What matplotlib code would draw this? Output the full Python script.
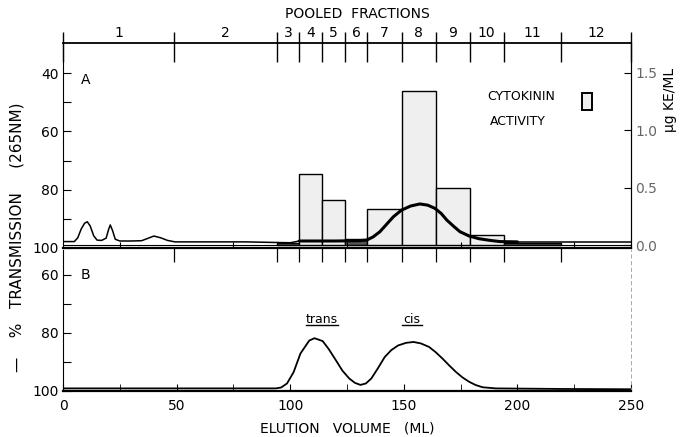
#!/usr/bin/env python3
"""
Cytokinin activity of pooled fractions vs. 265 nm transmission trace.
Saves out.png (695x437).
"""
import numpy as np
import matplotlib.pyplot as plt
from matplotlib.patches import Rectangle
import matplotlib.transforms as mtransforms

plt.rcParams["font.family"] = ["DejaVu Sans"]

# pooled fraction boundaries (ml) and labels
frac_edges = [0, 49, 94, 104, 114, 124, 134, 149, 164, 179, 194, 219, 250]
frac_labels = ["1", "2", "3", "4", "5", "6", "7", "8", "9", "10", "11", "12"]

# cytokinin activity per fraction (ug KE / ml)
activity = [0.0, 0.0, 0.02, 0.62, 0.39, 0.05, 0.31, 1.34, 0.50, 0.087, 0.02, 0.0]

# panel A: % transmission trace (265 nm)
a_vol = [0, 5, 6.5, 8, 9.5, 10.7, 12, 13.5, 15, 17, 19, 20, 20.8, 21.8, 23, 25,
         30, 34.6, 37, 40, 43, 46, 49.3, 55, 80, 100, 104, 120, 130, 133.6,
         136.5, 139.5, 142.5, 145.4, 149, 153, 157.1, 160.5, 163.7, 166.5,
         168.9, 172, 174.7, 178.8, 183, 188, 192.3, 200, 225, 250]
a_T = [97.8, 97.8, 96.5, 93.5, 91.5, 91.0, 92.5, 95.8, 97.3, 97.4, 96.6, 93.8,
       92.1, 94.0, 97.0, 97.6, 97.6, 97.5, 96.8, 95.9, 96.5, 97.4, 97.9, 97.9,
       97.9, 98.2, 97.6, 97.6, 97.5, 97.3, 96.2, 94.4, 91.8, 89.3, 87.0, 85.6,
       84.9, 85.3, 86.4, 88.2, 90.4, 92.6, 94.4, 95.9, 96.8, 97.4, 97.8, 97.9,
       97.9, 97.9]

# panel B: % transmission trace
b_vol = [0, 50, 93.7, 96, 98.6, 101.5, 104.5, 108.4, 110.7, 114.3, 117, 120.1,
         123, 126, 128.5, 130.9, 133.3, 135.7, 138.5, 141.6, 144.5, 147.5, 151,
         154.3, 157.5, 161.1, 164, 167, 170, 172.9, 175.8, 178.7, 181.5, 184.6,
         190.4, 220, 250]
b_T = [99.1, 99.1, 99.1, 98.8, 97.4, 93.5, 87.1, 82.6, 81.8, 82.8, 85.6, 89.4,
       93.0, 95.7, 97.2, 97.9, 97.4, 95.7, 92.3, 88.3, 85.9, 84.3, 83.4, 83.1,
       83.6, 84.8, 86.6, 88.8, 91.2, 93.4, 95.3, 96.8, 97.9, 98.7, 99.1, 99.3,
       99.4]

W, H = 695, 437
FS = 10


def fx(px):
    return px / W


def fy(py):
    return 1 - py / H


fig = plt.figure(figsize=(W / 100, H / 100), dpi=100)
fig.patch.set_facecolor("white")

ax_a = fig.add_axes([fx(63), fy(248), fx(631 - 63), (248 - 43) / H])
ax_b = fig.add_axes([fx(63), fy(391), fx(631 - 63), (391 - 250) / H])
ax_r = ax_a.twinx()

# ---- panel A -------------------------------------------------------------
lefts = frac_edges[:-1]
widths = np.diff(frac_edges)
for l, w, h in zip(lefts, widths, activity):
    if h <= 0:
        continue
    dark = h < 0.06
    ax_r.bar(l, h, width=w, align="edge",
             facecolor="#555555" if dark else "#efefef",
             edgecolor="black", linewidth=1.0, zorder=2)
ax_r.axhline(0, color="black", lw=0.8, zorder=1)
ax_r.set_ylim(-0.026, 1.761)
ax_r.set_yticks([0, 0.5, 1.0, 1.5])
ax_r.set_yticklabels(["0.0", "0.5", "1.0", "1.5"], color="#666666", fontsize=FS)
ax_r.tick_params(axis="y", direction="in", length=5, pad=3)

ax_a.set_zorder(ax_r.get_zorder() + 1)
ax_a.patch.set_visible(False)
vol = np.array(a_vol)
tr = np.array(a_T)
thin_l = vol <= 104
thick = (vol >= 104) & (vol <= 200)
thin_r = vol >= 200
ax_a.plot(vol[thin_l], tr[thin_l], color="black", lw=1.1)
ax_a.plot(vol[thick], tr[thick], color="black", lw=2.2, solid_capstyle="round")
ax_a.plot(vol[thin_r], tr[thin_r], color="black", lw=1.1)

ax_a.set_xlim(0, 250)
ax_a.set_ylim(100, 29.7)
ax_a.set_yticks([40, 50, 60, 70, 80, 90, 100])
ax_a.set_yticklabels(["40", "", "60", "", "80", "", "100"], fontsize=FS)
ax_a.tick_params(axis="y", direction="in", length=6, pad=3)
ax_a.set_xticks([25, 75, 125, 175, 225])
ax_a.set_xticklabels([])
ax_a.tick_params(axis="x", direction="in", length=4)
for sp in ("left", "right", "top"):
    ax_a.spines[sp].set_linewidth(0.8)
ax_a.spines["bottom"].set_linewidth(1.6)
ax_a.spines["top"].set_linewidth(1.3)
for sp in ax_r.spines.values():
    sp.set_visible(False)
ax_r.spines["right"].set_visible(True)
ax_r.spines["right"].set_linewidth(0.8)

# pooled fraction scale along the top, boundary ticks at the bottom
trans_a = mtransforms.blended_transform_factory(ax_a.transData, ax_a.transAxes)
ax_a.vlines(frac_edges, 1 - 19 / 205, 1 + 11 / 205, transform=trans_a,
            color="black", lw=1.0, clip_on=False)
ax_a.vlines(frac_edges[1:-1], -14 / 205, 0, transform=trans_a,
            color="black", lw=0.9, clip_on=False)
for i, lab in enumerate(frac_labels):
    mid = 0.5 * (frac_edges[i] + frac_edges[i + 1])
    ax_a.text(mid, 1 + 10 / 205, lab, transform=trans_a, ha="center",
              va="center", fontsize=FS)
fig.text(fx(357), fy(14), "POOLED  FRACTIONS", ha="center", va="center",
         fontsize=FS)

ax_a.text(10, 42.4, "A", ha="center", va="center", fontsize=FS)
ax_a.text(186.6, 48.2, "CYTOKININ", ha="left", va="center", fontsize=9)
ax_a.text(188, 56.5, "ACTIVITY", ha="left", va="center", fontsize=9)
ax_a.add_patch(Rectangle((228.4, 52.7), 4.4, -5.8, facecolor="#efefef",
                         edgecolor="black", lw=1.4))

# ---- panel B -------------------------------------------------------------
ax_b.plot(b_vol, b_T, color="black", lw=1.3)
ax_b.set_xlim(0, 250)
ax_b.set_ylim(100, 51.4)
ax_b.set_yticks([60, 70, 80, 90, 100])
ax_b.set_yticklabels(["60", "", "80", "", "100"], fontsize=FS)
ax_b.tick_params(axis="y", direction="in", length=6, pad=3)
ax_b.set_xticks([0, 50, 100, 150, 200, 250])
ax_b.set_xticks([25, 75, 125, 175, 225], minor=True)
ax_b.set_xticklabels(["0", "50", "100", "150", "200", "250"], fontsize=FS)
ax_b.tick_params(axis="x", which="both", direction="in", length=5, pad=6)
ax_b.spines["top"].set_visible(False)
ax_b.spines["left"].set_linewidth(0.8)
ax_b.spines["bottom"].set_linewidth(1.6)
ax_b.spines["right"].set_linewidth(0.6)
ax_b.spines["right"].set_color("#999999")
ax_b.spines["right"].set_linestyle((0, (4, 4)))
ax_b.patch.set_visible(False)

ax_b.text(10, 60, "B", ha="center", va="center", fontsize=FS)
ax_b.text(114, 75.3, "trans", ha="center", va="center", fontsize=9)
ax_b.plot([107, 121], [77.2, 77.2], color="black", lw=1.0)
ax_b.text(153.5, 75.3, "cis", ha="center", va="center", fontsize=9)
ax_b.plot([149, 158], [77.2, 77.2], color="black", lw=1.0)

ax_b.set_xlabel("ELUTION   VOLUME   (ML)", fontsize=FS, labelpad=6)

# axis titles
fig.text(fx(17), fy(237), "—    %   TRANSMISSION     (265NM)", rotation=90,
         ha="center", va="center", fontsize=11)
fig.text(fx(670), fy(100), "μg KE/ML", rotation=90, ha="center",
         va="center", fontsize=FS)

fig.savefig("out.png", dpi=100, facecolor="white")
plt.close(fig)
